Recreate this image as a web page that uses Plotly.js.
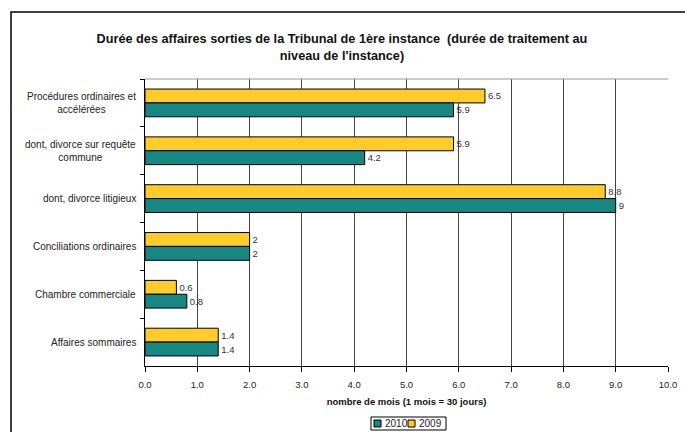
<!DOCTYPE html>
<html>
<head>
<meta charset="utf-8">
<script src="https://cdn.plot.ly/plotly-3.0.1.min.js"></script>
<style>html,body{margin:0;padding:0;background:#fff;}#chart{width:685px;height:432px;}</style>
</head>
<body>
<div id="chart"></div>
<script>
const categories = [
  "Procédures ordinaires et<br>accélérées",
  "dont, divorce sur requête<br>commune",
  "dont, divorce litigieux",
  "Conciliations ordinaires",
  "Chambre commerciale",
  "Affaires sommaires"
];
const values2010 = [5.9, 4.2, 9, 2, 0.8, 1.4];
const values2009 = [6.5, 5.9, 8.8, 2, 0.6, 1.4];
const xTickValues = [0,1,2,3,4,5,6,7,8,9,10];
const seriesNames = ['2010', '2009'];
const seriesColors = ['#178784', '#FFCC29'];

const fontFam = "Liberation Sans, Arial, sans-serif";

// plot area in pixels (for paper-coordinate conversions of decorations)
const PL = 145, PR = 668, PT = 79, PB = 366;
const px2x = (p) => (p - PL) / (PR - PL);
const px2y = (p) => (PB - p) / (PB - PT);

const trace2009 = {
  type: 'bar', orientation: 'h', name: seriesNames[1],
  y: categories, x: values2009,
  marker: {color: seriesColors[1], line: {color: '#000', width: 1}},
  text: values2009.map(String), textposition: 'outside',
  textfont: {family: fontFam, size: 9.5, color: '#333'},
  cliponaxis: false, showlegend: false
};
const trace2010 = {
  type: 'bar', orientation: 'h', name: seriesNames[0],
  y: categories, x: values2010,
  marker: {color: seriesColors[0], line: {color: '#000', width: 1}},
  text: values2010.map(String), textposition: 'outside',
  textfont: {family: fontFam, size: 9.5, color: '#333'},
  cliponaxis: false, showlegend: false
};

const annotations = categories.map((c) => ({
  xref: 'paper', yref: 'y', x: px2x(138), y: c, xanchor: 'right', yanchor: 'middle',
  text: c, align: 'center', showarrow: false,
  font: {family: fontFam, size: 10, color: '#222'}
}));

// legend (Excel style compact box)
const legX = [374, 408];
const shapes = [
  {type: 'path', xref: 'paper', yref: 'paper',
   path: 'M ' + px2x(11) + ',' + px2y(440) + ' L ' + px2x(11) + ',' + px2y(12) + ' L ' + px2x(700) + ',' + px2y(12),
   line: {color: '#000', width: 1.5}},
  {type: 'line', xref: 'paper', yref: 'paper', x0: 0, x1: 1, y0: 1, y1: 1,
   line: {color: '#999', width: 1}},
  {type: 'rect', xref: 'paper', yref: 'paper', x0: px2x(371), x1: px2x(446), y0: px2y(417), y1: px2y(430),
   line: {color: '#000', width: 1}, fillcolor: '#fff'}
];
seriesNames.forEach((n, i) => {
  shapes.push({type: 'rect', xref: 'paper', yref: 'paper',
    x0: px2x(legX[i]), x1: px2x(legX[i] + 7), y0: px2y(420), y1: px2y(427),
    line: {color: '#000', width: 1}, fillcolor: seriesColors[i]});
  annotations.push({xref: 'paper', yref: 'paper', x: px2x(legX[i] + 9), y: px2y(423.5),
    xanchor: 'left', yanchor: 'middle', showarrow: false, text: n,
    font: {family: fontFam, size: 10, color: '#222'}});
});

const layout = {
  width: 685, height: 432,
  margin: {l: PL, r: 685 - PR, t: PT, b: 432 - PB},
  paper_bgcolor: '#fff', plot_bgcolor: '#fff',
  font: {family: fontFam, color: '#222'},
  title: {
    text: "<b>Durée des affaires sorties de la Tribunal de 1ère instance  (durée de traitement au<br>niveau de l'instance)</b>",
    font: {family: fontFam, size: 12.7, color: '#111'},
    x: 342/685, xref: 'container', xanchor: 'center',
    y: 1 - 43/432, yref: 'container', yanchor: 'top'
  },
  barmode: 'group', bargap: 0.42, bargroupgap: 0,
  xaxis: {
    range: [0, 10], tickvals: xTickValues, tickformat: '.1f',
    showgrid: true, gridcolor: '#444', gridwidth: 1,
    showline: true, linecolor: '#000', linewidth: 1,
    ticks: 'outside', ticklen: 5, tickcolor: '#000',
    ticklabelstandoff: 5,
    tickfont: {family: fontFam, size: 9.5, color: '#222'},
    zeroline: false,
    title: {text: '<b>nombre de mois (1 mois = 30 jours)</b>', font: {family: fontFam, size: 9.5, color: '#111'}, standoff: 8}
  },
  yaxis: {
    type: 'category', autorange: 'reversed',
    showticklabels: false,
    showline: true, linecolor: '#000', linewidth: 1,
    ticks: 'outside', tickson: 'boundaries', ticklen: 4, tickcolor: '#000',
    showgrid: false, zeroline: false
  },
  showlegend: false,
  annotations: annotations,
  shapes: shapes
};

Plotly.newPlot('chart', [trace2009, trace2010], layout, {displayModeBar: false, staticPlot: true});
</script>
</body>
</html>
